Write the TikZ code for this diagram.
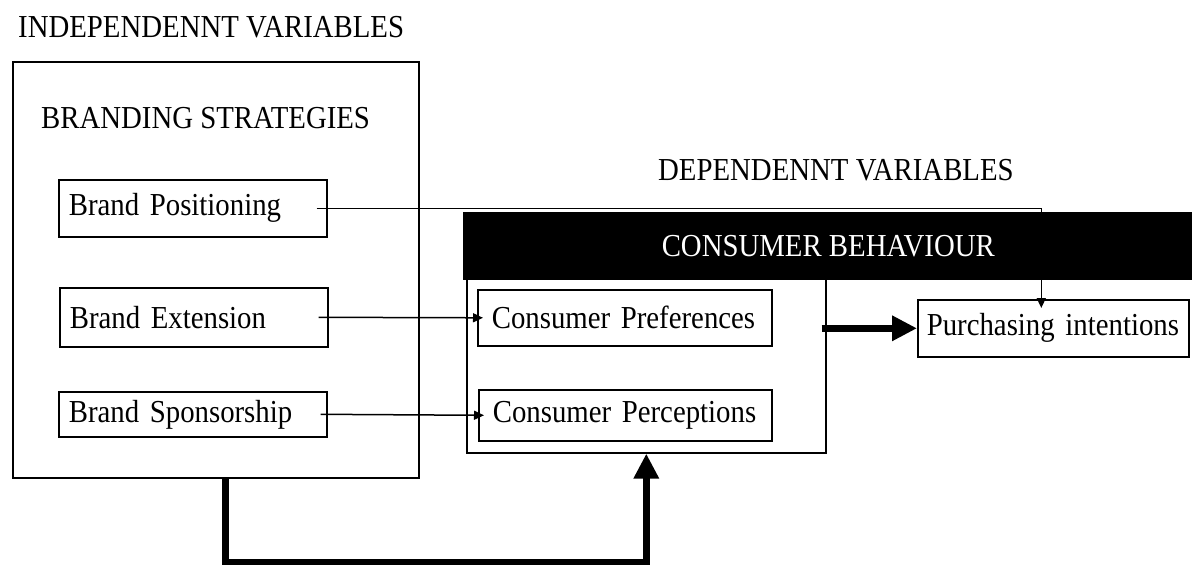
\documentclass[tikz,border=0pt]{standalone}
\usepackage{fontspec}
\setmainfont{Liberation Serif}[FakeStretch=0.9]
\usetikzlibrary{arrows.meta}
\tikzset{
	every node/.style={font=\fontsize{32}{38}\selectfont},
	varbox/.style={draw, line width=1.6pt, anchor=north west, align=left, inner xsep=10pt, inner ysep=0pt, text width=248pt, minimum height=57pt},
	bigbox/.style={draw, line width=1.6pt, anchor=north west, inner sep=0pt},
	heading/.style={anchor=west, inner sep=0pt},
	thinarrow/.style={line width=1.5pt, -{Triangle[length=10pt,width=9pt]}},
	thickarrow/.style={line width=7pt, -{Triangle[length=25pt,width=24pt]}}
}

\begin{document}
\begin{tikzpicture}[x=1pt, y=-1pt]
		%%%%% START %%%%%
		\useasboundingbox (0,0) rectangle (1192,565);
		
		\node[heading] (indep) at (18,27) {INDEPENDENNT VARIABLES};
		\node[bigbox, minimum width=406pt, minimum height=416pt] (strat) at (12,61) {};
		\node[heading] (brandstrat) at (41,118) {BRANDING STRATEGIES};
		\node[varbox] (bpos) at (58,179) {Brand Positioning};
		\node[varbox, minimum height=59pt] (bext) at (59,287) {Brand Extension};
		\node[varbox, minimum height=45pt] (bspon) at (58,391) {Brand Sponsorship};
		
		\node[heading] (dep) at (658,170) {DEPENDENNT VARIABLES};
		\node[bigbox, minimum width=359pt, minimum height=174pt] (cb) at (466,278) {};
		\node[varbox, inner xsep=14pt, text width=266pt, minimum height=56pt] (cpref) at (477,289) {Consumer Preferences};
		\node[varbox, inner xsep=14pt, text width=265pt, minimum height=51pt] (cper) at (478,389) {Consumer Perceptions};
		\node[varbox, inner xsep=9pt, text width=253pt] (purch) at (917,299) {Purchasing intentions};
		
		\draw[thinarrow] ([xshift=-11pt]bpos.east) -| ([xshift=-12pt,yshift=-9pt]purch.north);
		\draw[thinarrow] ([xshift=-10pt]bext.east) -- ([xshift=6pt]cpref.west);
		\draw[thinarrow] ([xshift=-7pt]bspon.east) -- ([xshift=6pt]cper.west);
		
		\node[bigbox, fill=black, text=white, minimum width=729pt, minimum height=66pt] (cbhead) at (463,212) {CONSUMER BEHAVIOUR};
		
		\draw[thickarrow] ([xshift=-5pt]cb.east |- purch.west) -- (purch.west);
		\draw[thickarrow] ([xshift=10pt]strat.south) -- ++(0,84) -| (cb.south);
		
		%%%%% END %%%%%
	\end{tikzpicture}
\end{document}
